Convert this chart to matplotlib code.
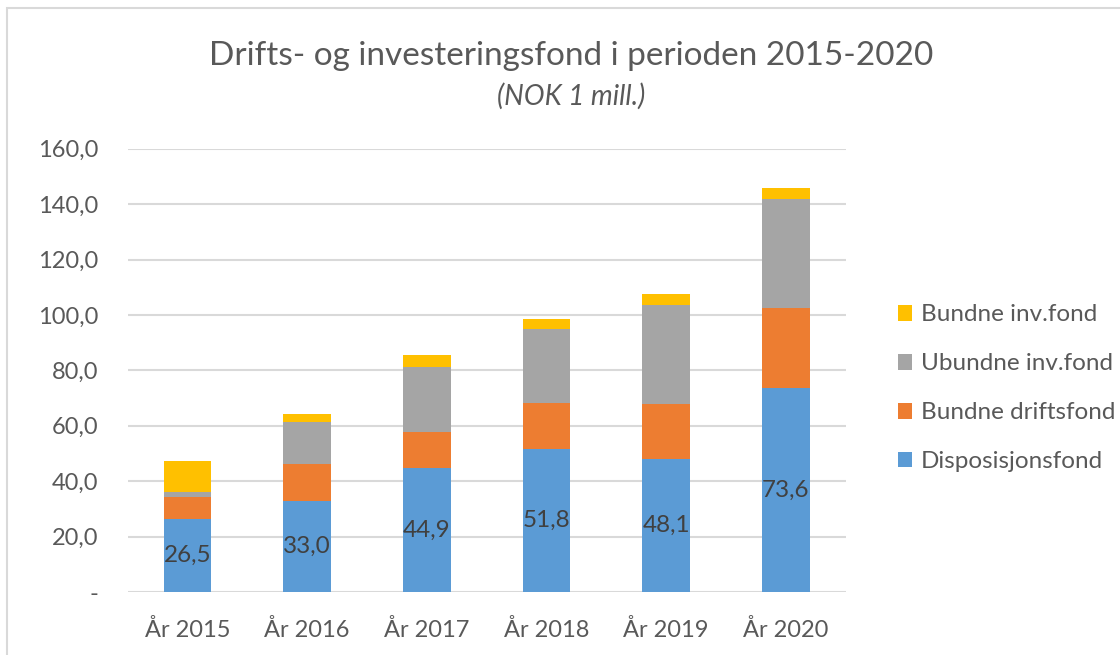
#! /usr/bin/env python3

import numpy as np
import matplotlib
matplotlib.use("Agg")
import matplotlib.pyplot as plt
from matplotlib.patches import Rectangle

years = ['År 2015', 'År 2016', 'År 2017', 'År 2018', 'År 2019', 'År 2020']

# NOK 1 mill.
disposisjonsfond = [26.5, 33.0, 44.9, 51.8, 48.1, 73.6]
bundne_driftsfond = [7.9, 13.4, 12.9, 16.6, 19.9, 29.0]
ubundne_invfond = [1.8, 15.0, 23.6, 26.6, 35.5, 39.2]
bundne_invfond = [11.2, 2.8, 4.1, 3.7, 4.0, 4.0]

yticks = [0, 20, 40, 60, 80, 100, 120, 140, 160]

plt.rcParams['font.family'] = ['Lato', 'DejaVu Sans']
txtcol = '#595959'

fig = plt.figure(figsize=(11.2, 6.55), dpi=100)
ax = fig.add_axes([0.114, 0.096, 0.641, 0.677])

x = np.arange(len(years))
w = 0.4
series = [
    (disposisjonsfond, 'Disposisjonsfond', '#5B9BD5'),
    (bundne_driftsfond, 'Bundne driftsfond', '#ED7D31'),
    (ubundne_invfond, 'Ubundne inv.fond', '#A5A5A5'),
    (bundne_invfond, 'Bundne inv.fond', '#FFC000'),
]
bottom = np.zeros(len(years))
handles = []
for vals, name, col in series:
    b = ax.bar(x, vals, w, bottom=bottom, color=col, label=name, zorder=3)
    handles.append(b)
    bottom += np.array(vals)

# data labels on the blue segment
for xi, v in zip(x, disposisjonsfond):
    ax.text(xi, v / 2, f"{v:.1f}".replace('.', ','), ha='center', va='center',
            fontsize=17.5, color='#404040', zorder=4)

ax.set_xlim(-0.5, len(years) - 0.5)
ax.set_ylim(0, 160)
ax.set_yticks(yticks)
ax.set_yticklabels(['-' if t == 0 else f"{t:.1f}".replace('.', ',') for t in yticks])
ax.set_xticks(x)
ax.set_xticklabels(years)
ax.tick_params(axis='both', length=0, labelsize=17, labelcolor=txtcol)
ax.tick_params(axis='y', pad=21)
ax.tick_params(axis='x', pad=19)
ax.grid(axis='y', color='#D9D9D9', linewidth=1.5, zorder=0)
for s in ax.spines.values():
    s.set_visible(False)

fig.text(0.51, 0.915, 'Drifts- og investeringsfond i perioden 2015-2020',
         ha='center', va='center', fontsize=24, color=txtcol)
fig.text(0.51, 0.853, '(NOK 1 mill.)', ha='center', va='center',
         fontsize=20, color=txtcol, style='italic')

leg = fig.legend(handles[::-1], [s[1] for s in series][::-1],
                 loc='center left', bbox_to_anchor=(0.782, 0.407),
                 frameon=False, fontsize=17.5, labelspacing=1.15,
                 handlelength=0.6, handleheight=0.6, handletextpad=0.35)
for t in leg.get_texts():
    t.set_color(txtcol)

fig.patches.append(Rectangle((0.006, -0.01), 1.2, 0.998, transform=fig.transFigure,
                             fill=False, edgecolor='#D9D9D9', linewidth=1.5))

fig.savefig('out.png', dpi=100)
